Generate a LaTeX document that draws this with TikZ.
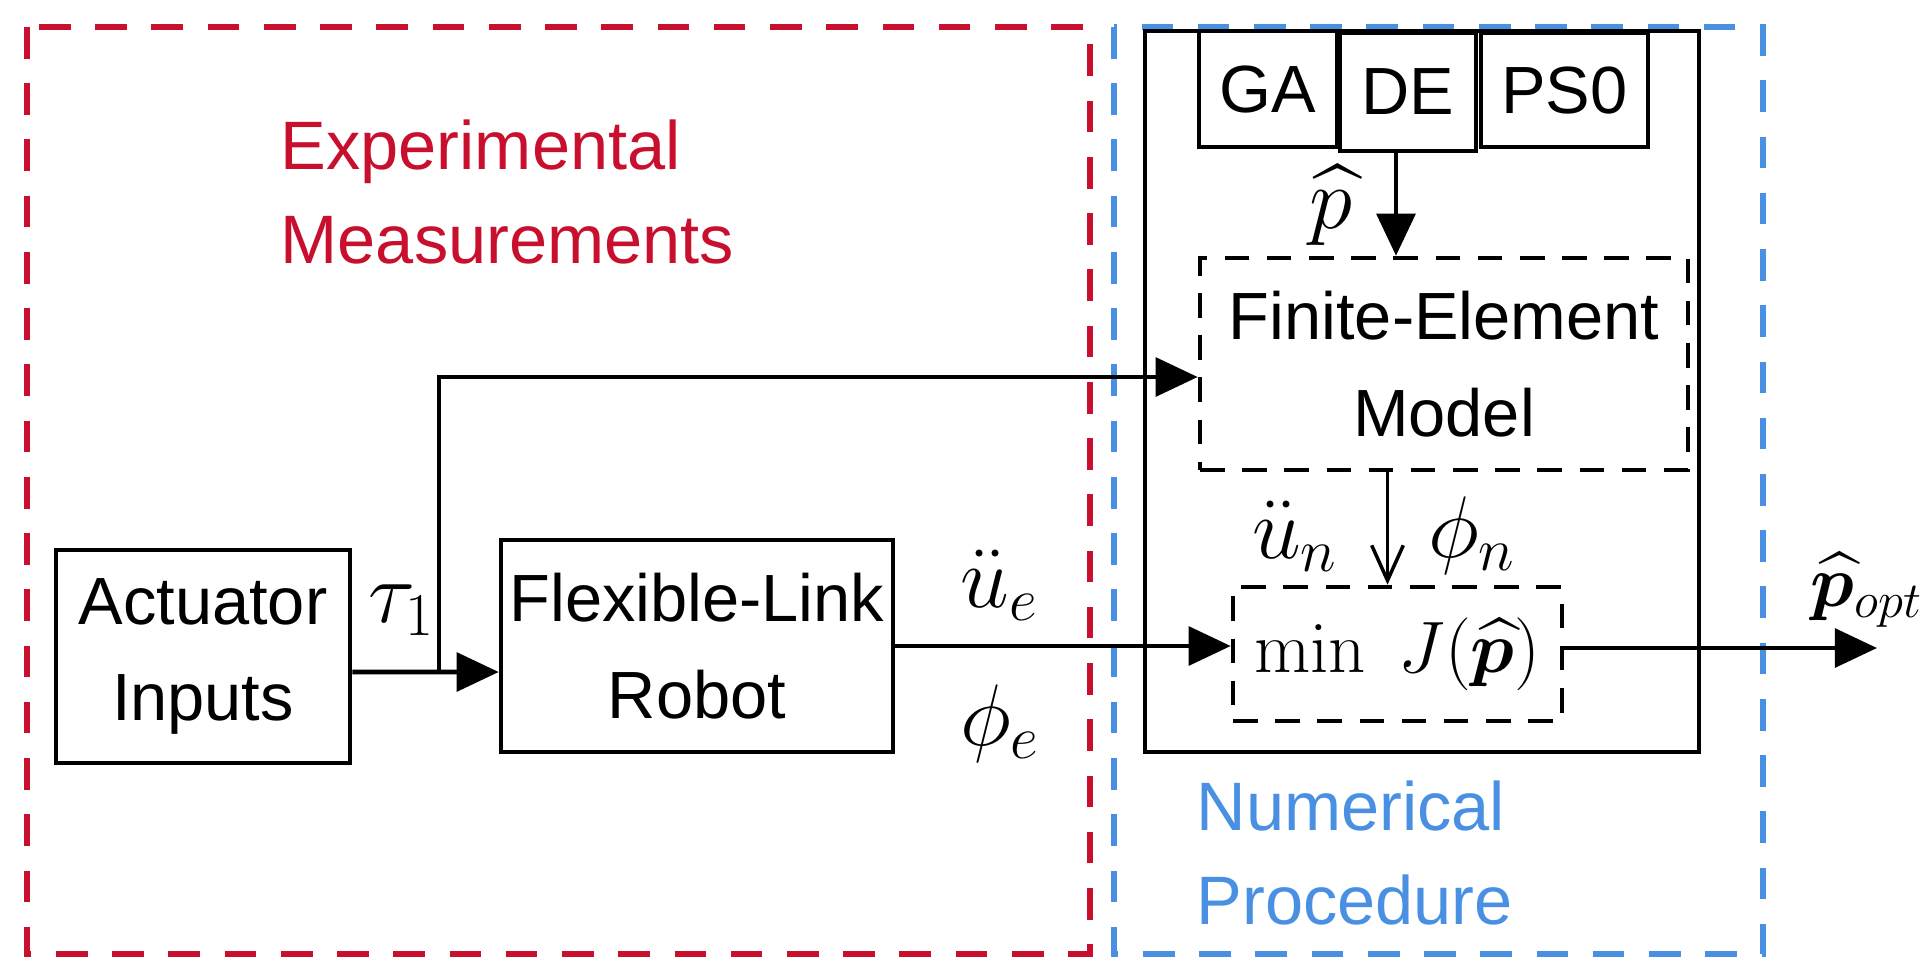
\documentclass[tikz,border=0pt]{standalone}
\usepackage{amsmath,bm}
\usepackage[no-math]{fontspec}
\setmainfont{Liberation Sans}
\usetikzlibrary{arrows.meta}
\definecolor{expred}{HTML}{C8102E}
\definecolor{numblue}{HTML}{4A90E2}
\tikzset{
 blk/.style={draw,line width=1.3pt,align=center,inner sep=0pt,font=\fontsize{19}{27.5}\selectfont},
 dblk/.style={blk,dash pattern=on 7pt off 5pt},
 arr/.style={line width=1.3pt,-{Triangle[length=12pt,width=11pt]}},
 barb/.style={line width=1pt,-{Straight Barb[length=10pt,width=9pt]}},
 grp/.style={line width=1.6pt,dash pattern=on 9pt off 7pt},
 lbl/.style={inner sep=0pt,font=\fontsize{23}{26}\selectfont},
 note/.style={anchor=west,align=left,inner sep=0pt,font=\fontsize{19.5}{27}\selectfont}
}
\begin{document}
\begin{tikzpicture}
\useasboundingbox (0,0) rectangle (19.24,-9.57);

\draw[grp,expred] (0.27,-0.27) rectangle (10.90,-9.54);
\draw[grp,numblue] (11.14,-0.27) rectangle (17.63,-9.54);

\node[note,text=expred] (expt) at (2.80,-1.92) {Experimental\\Measurements};
\node[note,text=numblue] (numt) at (11.96,-8.53) {Numerical\\Procedure};

\node[blk,minimum width=5.54cm,minimum height=7.21cm] (proc) at (14.22,-3.915) {};
\node[blk,minimum width=1.38cm,minimum height=1.16cm] (ga) at (12.68,-0.89) {GA};
\node[blk,minimum width=1.36cm,minimum height=1.18cm] (de) at (14.08,-0.92) {DE};
\node[blk,minimum width=1.67cm,minimum height=1.14cm] (pso) at (15.645,-0.90) {PS0};

\node[dblk,minimum width=4.88cm,minimum height=2.12cm] (fem) at (14.44,-3.64) {Finite-Element\\Model};
\node[dblk,minimum width=3.29cm,minimum height=1.34cm,font=\fontsize{21}{25}\selectfont] (minj) at (13.975,-6.54) {$\min\ J(\widehat{\bm p})$};

\node[blk,minimum width=2.94cm,minimum height=2.13cm] (act) at (2.03,-6.565) {Actuator\\Inputs};
\node[blk,minimum width=3.92cm,minimum height=2.12cm] (flr) at (6.97,-6.46) {Flexible-Link\\Robot};

\coordinate (br) at (4.39,-6.72);
\coordinate (popt) at (18.77,-6.48);

\draw[arr] ([yshift=-0.155cm]act.east) -- ([yshift=-0.26cm]flr.west);
\draw[arr] (br) |- ([yshift=-0.13cm]fem.west);
\draw[arr] ([xshift=-0.12cm]de.south) -- ([xshift=-0.12cm]de.south |- fem.north);
\draw[barb] ([xshift=-0.1cm]minj.north |- fem.south) -- ([xshift=-0.1cm]minj.north);
\draw[arr] (flr.east) -- (flr.east -| minj.west);
\draw[arr] (minj.east |- popt) -- (popt);

\node[lbl] (tau) at (4.02,-6.10) {$\tau_1$};
\node[lbl] (phat) at (13.31,-2.05) {$\widehat{p}$};
\node[lbl] (ue) at (10.0,-5.85) {$\ddot{u}_e$};
\node[lbl] (phie) at (10.0,-7.24) {$\phi_e$};
\node[lbl] (un) at (12.95,-5.36) {$\ddot{u}_n$};
\node[lbl] (phin) at (14.72,-5.36) {$\phi_n$};
\node[lbl,anchor=west,font=\fontsize{21}{24}\selectfont] (poptl) at (18.10,-5.90) {$\widehat{\bm p}_{opt}$};
\end{tikzpicture}
\end{document}
